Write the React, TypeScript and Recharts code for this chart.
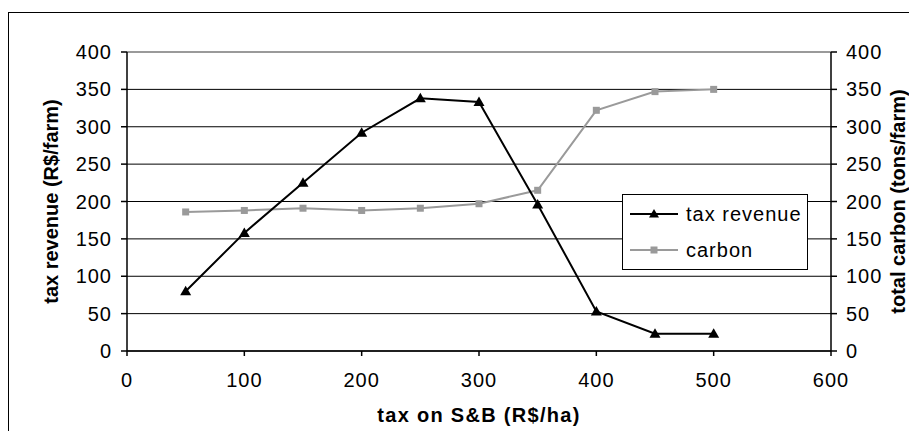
import React from 'react';
import { LineChart, Line, XAxis, YAxis, CartesianGrid, ReferenceLine, Legend } from 'recharts';

// tax on S&B (R$/ha)
const taxLevels = [50, 100, 150, 200, 250, 300, 350, 400, 450, 500];
// tax revenue (R$/farm)
const taxRevenue = [80, 158, 225, 292, 338, 333, 196, 53, 23, 23];
// total carbon (tons/farm)
const carbon = [186, 188, 191, 188, 191, 197, 215, 322, 347, 350];

const xTicks = [0, 100, 200, 300, 400, 500, 600];
const yTicks = [0, 50, 100, 150, 200, 250, 300, 350, 400];

const data = taxLevels.map((x, i) => ({ x, tax: taxRevenue[i], carbon: carbon[i] }));

const FONT = '"Liberation Sans", Arial, sans-serif';
const GREY = '#9a9a9a';

const Triangle = (props: any) => {
  const { cx, cy } = props;
  if (cx == null || cy == null) return null;
  return <path d={`M${cx},${cy - 5.5} L${cx + 5.5},${cy + 4} L${cx - 5.5},${cy + 4} Z`} fill="#000" />;
};

const Square = (props: any) => {
  const { cx, cy } = props;
  if (cx == null || cy == null) return null;
  return <rect x={cx - 3.5} y={cy - 3.5} width={7} height={7} fill={GREY} />;
};

const LegendBox = () => {
  const row = (label: string, color: string, marker: React.ReactNode) => (
    <div style={{ display: 'flex', alignItems: 'center', height: 36 }}>
      <svg width={56} height={14} style={{ marginLeft: 7 }}>
        <line x1={0} y1={7} x2={48} y2={7} stroke={color} strokeWidth={2} />
        {marker}
      </svg>
      <span style={{ fontFamily: FONT, fontSize: 20, letterSpacing: 1, color: '#000' }}>{label}</span>
    </div>
  );
  return (
    <div style={{ border: '1px solid #000', background: '#fff', width: 186, height: 76, boxSizing: 'border-box', paddingTop: 1 }}>
      {row('tax revenue', '#000', <path d="M24,2 L29,10.5 L19,10.5 Z" fill="#000" />)}
      {row('carbon', GREY, <rect x={20.5} y={3.5} width={7} height={7} fill={GREY} />)}
    </div>
  );
};

export default function App() {
  const tickStyle = { fontFamily: FONT, fontSize: 20, fill: '#000', letterSpacing: 1 };
  const titleStyle = { fontFamily: FONT, fontSize: 20, fontWeight: 'bold', fill: '#000' };
  return (
    <div style={{ position: 'absolute', left: 0, top: 0, width: 909, height: 431, overflow: 'hidden', background: '#fff' }}>
      <div style={{ position: 'absolute', left: 8, top: 12, width: 940, height: 460, borderLeft: '1px solid #000', borderTop: '1px solid #000' }} />
      <div style={{ position: 'absolute', left: 0, top: 0 }}>
        <LineChart width={909} height={431} data={data} margin={{ top: 52, right: 0, bottom: 30, left: 0 }}>
          <CartesianGrid yAxisId="left" vertical={false} stroke="#000" strokeWidth={1} />
          <XAxis
            dataKey="x"
            type="number"
            domain={[0, 600]}
            ticks={xTicks}
            height={50}
            stroke="#000"
            strokeWidth={1.5}
            tickSize={5}
            tickMargin={17}
            tick={tickStyle}
            label={{ value: 'tax on S&B (R$/ha)', position: 'center', dy: 39, style: { ...titleStyle, letterSpacing: 1.3 } }}
          />
          <YAxis
            yAxisId="left"
            domain={[0, 400]}
            ticks={yTicks}
            width={127}
            stroke="#000"
            strokeWidth={1.5}
            tickSize={6}
            tickMargin={9}
            tick={tickStyle}
            label={{ value: 'tax revenue (R$/farm)', angle: -90, position: 'center', dx: -13, style: titleStyle }}
          />
          <YAxis
            yAxisId="right"
            orientation="right"
            domain={[0, 400]}
            ticks={yTicks}
            width={78}
            stroke="#000"
            strokeWidth={1.5}
            tickSize={6}
            tickMargin={9}
            tick={tickStyle}
            label={{ value: 'total carbon (tons/farm)', angle: -90, position: 'center', dx: 28, style: titleStyle }}
          />
          <ReferenceLine yAxisId="left" y={400} stroke={GREY} strokeWidth={2} />
          <Legend
            layout="horizontal"
            verticalAlign="middle"
            align="center"
            wrapperStyle={{ left: 622, top: 194, width: 186, height: 76 }}
            content={() => <LegendBox />}
          />
          <Line
            yAxisId="right"
            dataKey="carbon"
            name="carbon"
            type="linear"
            stroke={GREY}
            strokeWidth={2}
            dot={<Square />}
            activeDot={false}
            isAnimationActive={false}
          />
          <Line
            yAxisId="left"
            dataKey="tax"
            name="tax revenue"
            type="linear"
            stroke="#000"
            strokeWidth={2}
            dot={<Triangle />}
            activeDot={false}
            isAnimationActive={false}
          />
        </LineChart>
      </div>
    </div>
  );
}
